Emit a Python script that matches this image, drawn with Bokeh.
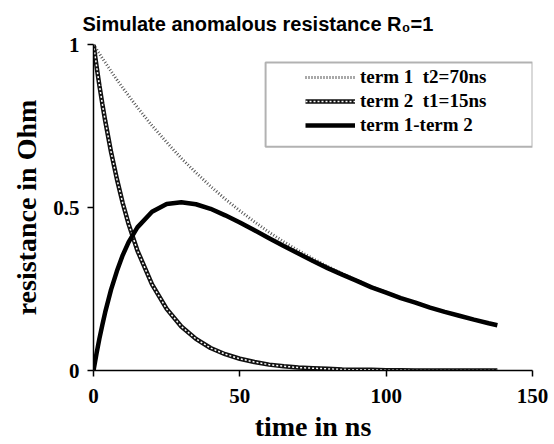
from bokeh.plotting import figure
from bokeh.models import Legend, LegendItem, FixedTicker, BoxAnnotation
from bokeh.embed import file_html
from bokeh.resources import INLINE

# time in ns
t = [0, 1, 2, 3, 4, 6, 8, 10, 12, 15, 20, 25, 30, 35, 40, 45, 50, 55, 60, 65,
     70, 75, 80, 85, 90, 95, 100, 105, 110, 115, 120, 125, 130, 135, 138]
# term 1 (t2 = 70 ns)
term1 = [1.0, 0.986, 0.972, 0.958, 0.945, 0.918, 0.892, 0.867, 0.843, 0.807,
         0.751, 0.700, 0.651, 0.607, 0.565, 0.526, 0.490, 0.456, 0.424, 0.395,
         0.368, 0.343, 0.319, 0.297, 0.277, 0.257, 0.240, 0.223, 0.208, 0.193,
         0.180, 0.168, 0.156, 0.145, 0.139]
# term 2 (t1 = 15 ns)
term2 = [1.0, 0.936, 0.875, 0.819, 0.766, 0.670, 0.587, 0.513, 0.449, 0.368,
         0.264, 0.189, 0.135, 0.097, 0.069, 0.050, 0.036, 0.026, 0.018, 0.013,
         0.009, 0.007, 0.005, 0.003, 0.002, 0.002, 0.001, 0.001, 0.0, 0.0,
         0.0, 0.0, 0.0, 0.0, 0.0]
# term 1 - term 2
diff = [0.0, 0.050, 0.097, 0.139, 0.179, 0.248, 0.305, 0.354, 0.394, 0.439,
        0.487, 0.511, 0.516, 0.510, 0.496, 0.476, 0.454, 0.430, 0.406, 0.382,
        0.359, 0.336, 0.314, 0.294, 0.275, 0.255, 0.239, 0.222, 0.208, 0.193,
        0.180, 0.168, 0.156, 0.145, 0.139]

labels = ["term 1  t2=70ns", "term 2  t1=15ns", "term 1-term 2"]
x_ticks = [0, 50, 100, 150]
y_ticks = [0, 0.5, 1]

p = figure(width=554, height=444, output_backend="svg", toolbar_location=None,
           x_range=(0, 150), y_range=(0, 1),
           min_border_left=93, min_border_right=22, min_border_top=44,
           min_border_bottom=72)
p.background_fill_color = "white"
p.outline_line_color = None
p.grid.grid_line_color = None

p.title.text = "Simulate anomalous resistance R\u2080=1"
p.title.text_font = "Liberation Sans"
p.title.text_font_style = "bold"
p.title.text_font_size = "20px"
p.title.text_color = "black"
p.title.align = "left"
p.title.offset = -11
p.title.standoff = 20

serif = "Liberation Serif"
for ax in (p.xaxis[0], p.yaxis[0]):
    ax.axis_line_width = 1.5
    ax.axis_line_color = "black"
    ax.major_tick_line_width = 1.5
    ax.major_tick_line_color = "black"
    ax.major_tick_out = 6
    ax.major_tick_in = 0
    ax.minor_tick_line_color = None
    ax.major_label_text_font = serif
    ax.major_label_text_font_style = "bold"
    ax.major_label_text_font_size = "21px"
    ax.major_label_text_color = "black"
    ax.axis_label_text_font = serif
    ax.axis_label_text_font_style = "bold"
    ax.axis_label_text_font_size = "28px"
    ax.axis_label_text_color = "black"

p.xaxis.ticker = FixedTicker(ticks=x_ticks)
p.yaxis.ticker = FixedTicker(ticks=y_ticks)
p.yaxis.major_label_overrides = {0: "0", 0.5: "0.5", 1: "1"}
p.xaxis.axis_label = "time in ns"
p.yaxis.axis_label = "resistance in Ohm"
p.xaxis.major_label_standoff = 12
p.yaxis.major_label_standoff = 8
p.xaxis.axis_label_standoff = 5
p.yaxis.axis_label_standoff = 8

r1 = p.line(t, term1, line_color="#555555", line_width=3, line_dash="1 2")
r2a = p.line(t, term2, line_color="#111111", line_width=4.5)
r2b = p.line(t, term2, line_color="white", line_width=1.5, line_dash="2 2")
r3 = p.line(t, diff, line_color="black", line_width=4.5)

box = BoxAnnotation(left=58.8, right=150, top=0.945, bottom=0.686,
                    fill_color="white", fill_alpha=1.0,
                    line_color="black", line_width=2, level="annotation")
p.add_layout(box)

legend = Legend(items=[LegendItem(label=labels[0], renderers=[r1]),
                       LegendItem(label=labels[1], renderers=[r2a, r2b]),
                       LegendItem(label=labels[2], renderers=[r3])],
                location=(208, 230), border_line_alpha=0,
                background_fill_alpha=0, padding=4, spacing=2,
                glyph_width=50, glyph_height=22, label_standoff=5,
                label_text_font=serif, label_text_font_style="bold",
                label_text_font_size="19px", label_height=22,
                label_text_color="black")
p.add_layout(legend)

open("out.html", "w").write(file_html(p, INLINE))
